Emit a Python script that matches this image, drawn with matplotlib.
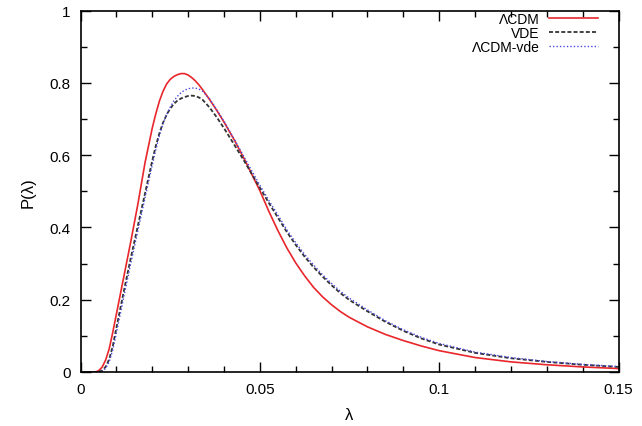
import numpy as np
import matplotlib
matplotlib.use('Agg')
import matplotlib.pyplot as plt
from matplotlib.ticker import MultipleLocator

plt.rcParams['font.family'] = ['Liberation Sans', 'DejaVu Sans']

# values
lam = [0.000, 0.004, 0.005, 0.006, 0.007, 0.008, 0.009, 0.010, 0.012, 0.014,
       0.016, 0.018, 0.020, 0.021, 0.022, 0.023, 0.024, 0.025, 0.026, 0.027,
       0.028, 0.029, 0.030, 0.031, 0.032, 0.033, 0.034, 0.036, 0.038, 0.040,
       0.043, 0.046, 0.050, 0.0525, 0.055, 0.0575, 0.060, 0.0625, 0.065, 0.0675,
       0.070, 0.0725, 0.075, 0.080, 0.085, 0.090, 0.095, 0.100, 0.110, 0.120,
       0.130, 0.140, 0.150]

p_lcdm = [0.000, 0.000, 0.003, 0.013, 0.033, 0.064, 0.110, 0.160, 0.260, 0.360,
          0.465, 0.580, 0.675, 0.715, 0.750, 0.777, 0.797, 0.810, 0.818, 0.823,
          0.826, 0.826, 0.822, 0.815, 0.806, 0.795, 0.782, 0.754, 0.724, 0.692,
          0.640, 0.583, 0.502, 0.445, 0.392, 0.344, 0.302, 0.266, 0.234, 0.208,
          0.186, 0.167, 0.151, 0.125, 0.104, 0.087, 0.072, 0.059, 0.040, 0.028,
          0.020, 0.014, 0.0095]

p_vde = [0.000, 0.000, 0.000, 0.004, 0.014, 0.035, 0.072, 0.122, 0.220, 0.315,
         0.405, 0.495, 0.585, 0.626, 0.661, 0.690, 0.712, 0.729, 0.742, 0.751,
         0.757, 0.761, 0.764, 0.765, 0.764, 0.760, 0.754, 0.732, 0.705, 0.675,
         0.627, 0.578, 0.510, 0.468, 0.428, 0.388, 0.352, 0.319, 0.290, 0.264,
         0.240, 0.218, 0.199, 0.168, 0.139, 0.114, 0.093, 0.076, 0.053, 0.038,
         0.028, 0.020, 0.014]

p_lcdm_vde = [0.000, 0.000, 0.000, 0.002, 0.010, 0.028, 0.062, 0.108, 0.205, 0.300,
              0.392, 0.483, 0.573, 0.616, 0.655, 0.687, 0.712, 0.733, 0.750, 0.763,
              0.773, 0.780, 0.784, 0.786, 0.786, 0.783, 0.778, 0.756, 0.726, 0.694,
              0.642, 0.588, 0.517, 0.475, 0.435, 0.394, 0.358, 0.325, 0.296, 0.269,
              0.245, 0.223, 0.204, 0.172, 0.142, 0.117, 0.096, 0.079, 0.055, 0.040,
              0.029, 0.021, 0.015]

xticks = [0, 0.05, 0.1, 0.15]
xticklabels = ['0', '0.05', '0.1', '0.15']
yticks = [0, 0.2, 0.4, 0.6, 0.8, 1]
yticklabels = ['0', '0.2', '0.4', '0.6', '0.8', '1']

fig = plt.figure(figsize=(6.42, 4.27), dpi=100)
ax = fig.add_axes([0.1254, 0.1265, 0.838, 0.846])

ax.plot(lam, p_lcdm, color='#e8262b', lw=1.2, label='ΛCDM')
ax.plot(lam, p_vde, color='#333333', lw=1.3, ls=(0, (2.2, 1.2)), label='VDE')
ax.plot(lam, p_lcdm_vde, color='#4a4adf', lw=1.0, ls=(0, (1, 1.5)), label='ΛCDM-vde')

ax.set_xlim(0, 0.15)
ax.set_ylim(0, 1)
ax.set_xticks(xticks)
ax.set_xticklabels(xticklabels)
ax.set_yticks(yticks)
ax.set_yticklabels(yticklabels)
ax.xaxis.set_minor_locator(MultipleLocator(0.01))
ax.yaxis.set_minor_locator(MultipleLocator(0.1))
ax.tick_params(which='both', direction='in', top=True, right=True, labelsize=11, width=1)
ax.tick_params(which='major', length=7, pad=7)
ax.tick_params(which='minor', length=4)
for s in ax.spines.values():
    s.set_linewidth(1.2)

ax.set_xlabel('λ', fontsize=12, labelpad=8)
ax.set_ylabel('P(λ)', fontsize=12, labelpad=10)

leg = ax.legend(loc='upper right', bbox_to_anchor=(0.972, 1.011), markerfirst=False,
                frameon=False, fontsize=10, handlelength=3.5, handletextpad=0.7,
                labelspacing=0.0, borderaxespad=0, borderpad=0.4)

fig.savefig('out.png', dpi=100)
